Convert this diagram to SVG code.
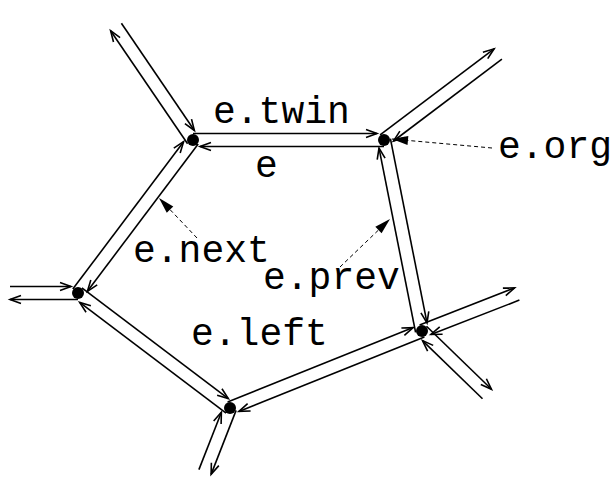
<svg xmlns="http://www.w3.org/2000/svg" width="616" height="477" viewBox="0 0 616 477">
<style>
.he{fill:none;stroke:#000;stroke-width:1.6;marker-end:url(#ah)}
.pt{fill:none;stroke:#000;stroke-width:1;stroke-dasharray:4 3;marker-end:url(#fh)}
.v{fill:#000}
.lb{font-family:"Liberation Mono","Courier New",monospace;font-size:38px;fill:#000}
</style>
<defs>
<marker id="ah" markerWidth="16" markerHeight="12" refX="13" refY="6" orient="auto" markerUnits="userSpaceOnUse" overflow="visible">
<path d="M2,2 L13,6 L2,10" fill="none" stroke="#000" stroke-width="1.6"/>
</marker>
<marker id="fh" markerWidth="18" markerHeight="10" refX="16" refY="5" orient="auto" markerUnits="userSpaceOnUse" overflow="visible">
<path d="M0,0.5 L16,5 L0,9.5 Z" fill="#000"/>
</marker>
</defs>
<rect width="616" height="477" fill="#fff"/>
<g id="connectors">
<!-- polygon edges -->
<line class="he" x1="193" y1="133.5" x2="377" y2="133.5"/>
<line class="he" x1="384" y1="146.5" x2="200" y2="146.5"/>
<line class="he" x1="198.2" y1="143.9" x2="87.4" y2="291.3"/>
<line class="he" x1="72.8" y1="289.1" x2="183.6" y2="141.7"/>
<line class="he" x1="81.9" y1="287.8" x2="228.3" y2="398.6"/>
<line class="he" x1="226.1" y1="413.2" x2="79.7" y2="302.4"/>
<line class="he" x1="227.6" y1="402" x2="413.1" y2="327.6"/>
<line class="he" x1="424.4" y1="337" x2="238.9" y2="411.4"/>
<line class="he" x1="415.6" y1="332.3" x2="379" y2="148.1"/>
<line class="he" x1="390.4" y1="138.7" x2="427" y2="322.9"/>
<!-- spokes -->
<line class="he" x1="187.6" y1="143.7" x2="110.6" y2="30.7"/>
<line class="he" x1="121.4" y1="23.3" x2="194.4" y2="130.5"/>
<line class="he" x1="380.1" y1="134.8" x2="494.1" y2="48.8"/>
<line class="he" x1="501.9" y1="59.2" x2="393.5" y2="141"/>
<line class="he" x1="419.6" y1="324.9" x2="514.6" y2="287.9"/>
<line class="he" x1="519.4" y1="300.1" x2="430.9" y2="334.5"/>
<line class="he" x1="426.5" y1="326.3" x2="491.5" y2="389.3"/>
<line class="he" x1="482.5" y1="398.7" x2="422.5" y2="340.6"/>
<line class="he" x1="236.1" y1="410.4" x2="211.1" y2="474.4"/>
<line class="he" x1="198.9" y1="469.6" x2="221.4" y2="412.2"/>
<line class="he" x1="78" y1="299.5" x2="10" y2="299.5"/>
<line class="he" x1="10" y1="286.5" x2="71" y2="286.5"/>
<!-- label pointers -->
<line class="pt" x1="492" y1="148" x2="392" y2="139"/>
<line class="pt" x1="197" y1="238" x2="159" y2="198"/>
<line class="pt" x1="340" y1="267" x2="390" y2="219"/>
</g>
<g id="v1"><circle class="v" cx="193" cy="140" r="6"/></g>
<g id="v2"><circle class="v" cx="384" cy="140" r="6"/></g>
<g id="v3"><circle class="v" cx="422" cy="331" r="6"/></g>
<g id="v4"><circle class="v" cx="230" cy="408" r="6"/></g>
<g id="v5"><circle class="v" cx="78" cy="293" r="6"/></g>
<g id="labels">
<text class="lb" x="213" y="123">e.twin</text>
<text class="lb" x="255" y="177">e</text>
<text class="lb" x="498" y="158">e.org</text>
<text class="lb" x="133" y="262">e.next</text>
<text class="lb" x="263" y="289">e.prev</text>
<text class="lb" x="191" y="345">e.left</text>
</g>
</svg>
